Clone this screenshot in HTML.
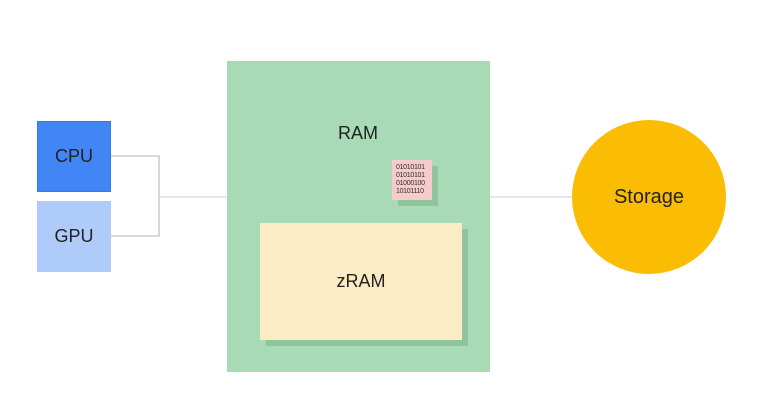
<!DOCTYPE html>
<html><head><style>
body{margin:0;width:759px;height:405px;background:#fff;position:relative;overflow:hidden;font-family:"Liberation Sans",sans-serif}
div{position:absolute;box-sizing:border-box}
.c{display:flex;align-items:center;justify-content:center}
</style></head><body>
<svg style="position:absolute;left:0;top:0" width="759" height="405">
<polyline points="111,156 159,156 159,236 111,236" fill="none" stroke="#b0b0b0" stroke-width="1"/>
<line x1="159" y1="197" x2="227" y2="197" stroke="#d0d0d0"/>
<line x1="490" y1="197" x2="572" y2="197" stroke="#d0d0d0"/>
</svg>
<div class="c" style="left:37px;top:121px;width:74px;height:71px;background:#4285f4;border:1px solid #3b78e7;font-size:18px;color:#222">CPU</div>
<div class="c" style="left:37px;top:201px;width:74px;height:71px;background:#aecbfa;font-size:18px;color:#222">GPU</div>
<div style="left:227px;top:61px;width:263px;height:311px;background:#a8dab5"></div>
<div class="c" style="left:318px;top:120px;width:80px;height:26px;font-size:18px;color:#222">RAM</div>
<div style="left:398px;top:166px;width:40px;height:40px;background:#8fc49c"></div>
<div style="left:392px;top:160px;width:40px;height:40px;background:#f6cbcb;font-size:7px;line-height:8px;color:#333;padding:4px 0 0 4px;letter-spacing:-0.3px">01010101<br>01010101<br>01000100<br>10101110</div>
<div style="left:266px;top:229px;width:202px;height:117px;background:#8fc49c"></div>
<div class="c" style="left:260px;top:223px;width:202px;height:117px;background:#fcecc5;font-size:18px;color:#222">zRAM</div>
<div class="c" style="left:572px;top:120px;width:154px;height:154px;border-radius:50%;background:#fbbc04;font-size:20px;color:#222">Storage</div>
</body></html>
